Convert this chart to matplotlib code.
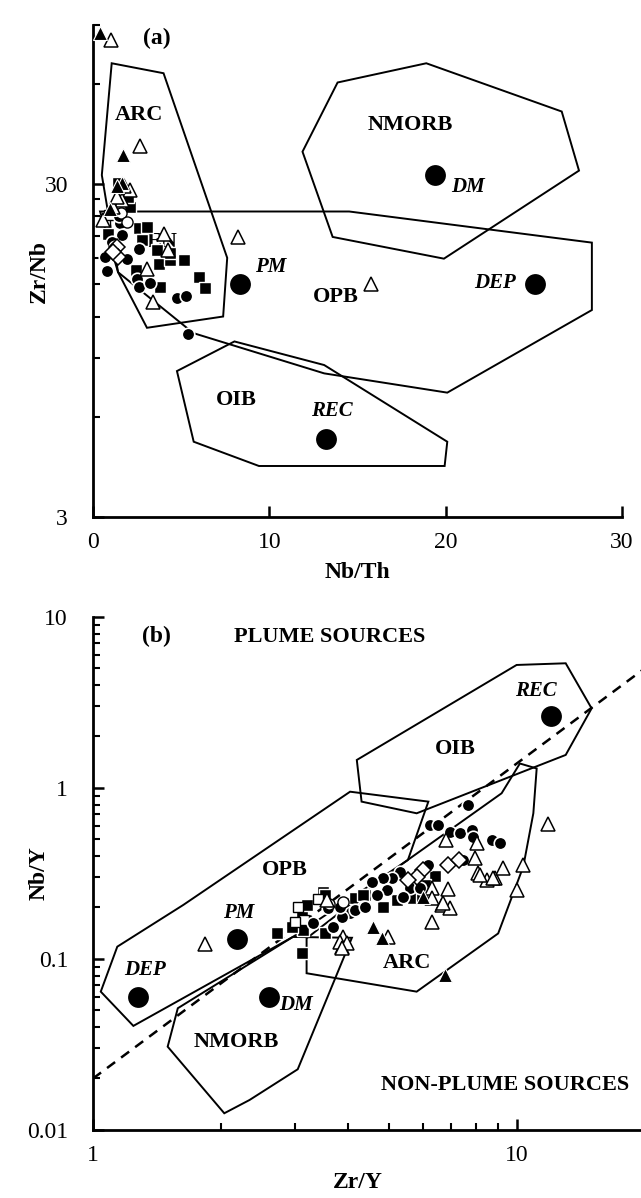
import matplotlib
matplotlib.use('Agg')
import matplotlib.pyplot as plt
from matplotlib.patches import Polygon
from matplotlib.ticker import FixedLocator, NullFormatter, FixedFormatter
import numpy as np

plt.rcParams['font.family'] = ['Liberation Serif', 'DejaVu Serif']

# ------------------------------------------------------------------
# (a) Zr/Nb vs Nb/Th
# ------------------------------------------------------------------
a_arc_x = [1.06, 4.0, 7.61, 7.38, 3.06, 1.42, 0.5]
a_arc_y = [69.1, 64.5, 18.0, 12.0, 11.1, 16.3, 31.9]
a_opb_x = [0.4, 14.53, 28.29, 28.29, 20.09, 13.11, 5.69, 1.42]
a_opb_y = [24.8, 24.8, 20.0, 12.55, 7.09, 8.1, 10.7, 16.3]
a_nmorb_x = [13.87, 18.9, 26.58, 27.56, 19.9, 13.59, 11.88]
a_nmorb_y = [60.5, 69.1, 49.5, 32.9, 17.9, 20.8, 37.5]
a_oib_x = [4.76, 8.02, 13.11, 20.09, 19.94, 9.41, 5.71]
a_oib_y = [8.23, 10.1, 8.58, 5.05, 4.27, 4.27, 5.05]

a_ref_names = ['PM', 'DM', 'DEP', 'REC']
a_ref_x = [8.33, 19.37, 25.06, 13.24]
a_ref_y = [15.0, 31.9, 15.0, 5.15]

a_sqf_x = [1.44, 2.07, 2.58, 3.06, 0.87, 2.77, 3.63, 3.72, 4.38, 5.14, 2.45, 5.99, 6.37, 3.81, 4.38, 2.0]
a_sqf_y = [30.1, 25.6, 22.1, 22.3, 21.3, 20.4, 19.0, 17.3, 17.7, 17.7, 16.6, 15.8, 14.6, 14.7, 18.6, 27.5]
a_cirf_x = [1.54, 1.63, 1.06, 2.58, 0.68, 1.92, 0.78, 2.49, 2.58, 3.24, 4.76, 5.29, 5.37, 1.25, 1.50]
a_cirf_y = [22.9, 21.1, 20.1, 19.2, 18.1, 17.9, 16.4, 15.6, 14.7, 15.1, 13.6, 13.8, 10.6, 19.4, 24.0]
a_trif_x = [0.40, 1.69, 1.63, 1.35, 0.97]
a_trif_y = [85.1, 36.7, 30.1, 29.5, 25.3]
a_trio_x = [1.01, 2.64, 2.11, 1.63, 1.16, 0.59, 4.0, 4.23, 3.06, 3.40, 8.21, 15.77, 1.75, 1.35]
a_trio_y = [81.2, 39.0, 28.8, 26.9, 25.6, 23.4, 21.3, 19.0, 16.7, 13.3, 20.8, 15.0, 29.5, 27.5]
a_diao_x = [1.35, 1.44, 1.15]
a_diao_y = [19.4, 18.1, 18.8]
a_sqo_x = [0.68, 0.9]
a_sqo_y = [23.2, 24.2]
a_ciro_x = [1.6, 1.9]
a_ciro_y = [24.5, 23.0]

# ------------------------------------------------------------------
# (b) Nb/Y vs Zr/Y
# ------------------------------------------------------------------
b_opb_x = [1.245, 1.043, 1.141, 1.633, 4.04, 6.18, 5.53, 2.96]
b_opb_y = [0.0406, 0.0644, 0.118, 0.207, 0.951, 0.832, 0.379, 0.1345]
b_oib_x = [4.19, 9.98, 13.03, 15.0, 13.03, 5.80, 4.30]
b_oib_y = [1.458, 5.24, 5.36, 2.92, 1.56, 0.711, 0.832]
b_arc_x = [3.19, 3.19, 5.80, 9.03, 10.35, 10.93, 11.13, 10.16, 9.20, 5.39]
b_arc_y = [0.132, 0.0825, 0.0644, 0.141, 0.347, 0.711, 1.30, 1.39, 0.931, 0.363]
b_nmorb_x = [1.585, 1.50, 2.04, 2.34, 3.04, 4.08, 2.96]
b_nmorb_y = [0.0515, 0.0307, 0.01252, 0.01497, 0.02264, 0.133, 0.1345]
b_div_x = [1, 20]
b_div_y = [0.02, 5]

b_ref_names = ['PM', 'DM', 'DEP', 'REC']
b_ref_x = [2.19, 2.60, 1.28, 12.0]
b_ref_y = [0.13, 0.06, 0.06, 2.65]

b_sqf_x = [6.41, 6.07, 4.38, 4.15, 3.49, 3.11, 3.11, 3.13, 3.11, 2.71, 2.94, 3.53, 4.84, 5.20, 5.69, 5.96, 3.19, 3.53, 4.34]
b_sqf_y = [0.306, 0.271, 0.237, 0.226, 0.247, 0.202, 0.181, 0.148, 0.108, 0.141, 0.154, 0.141, 0.202, 0.221, 0.226, 0.231, 0.207, 0.237, 0.237]
b_sqo_x = [3.05, 3.15, 3.4, 3.0]
b_sqo_y = [0.20, 0.17, 0.225, 0.165]
b_cirf_x = [7.65, 6.23, 6.52, 6.95, 7.34, 7.82, 7.89, 8.72, 9.12, 7.47, 6.18, 5.30, 5.06, 4.84, 4.54,
            4.93, 4.67, 5.59, 5.90, 4.34, 4.04, 3.86, 3.59, 3.82, 3.31, 3.69, 5.39, 4.15, 4.38]
b_cirf_y = [0.796, 0.608, 0.608, 0.555, 0.543, 0.568, 0.519, 0.497, 0.479, 0.379, 0.355, 0.324, 0.296, 0.296, 0.283,
            0.253, 0.237, 0.259, 0.259, 0.202, 0.185, 0.177, 0.198, 0.202, 0.162, 0.154, 0.231, 0.193, 0.202]
b_ciro_x = [3.89, 3.6]
b_ciro_y = [0.216, 0.21]
b_diao_x = [6.01, 5.80, 5.54, 6.89, 7.3]
b_diao_y = [0.332, 0.303, 0.290, 0.355, 0.38]
b_trif_x = [4.58, 4.80, 6.76, 6.0]
b_trif_y = [0.154, 0.132, 0.0806, 0.23]
b_trio_x = [6.80, 8.04, 7.96, 8.10, 8.48, 8.88, 9.29, 10.35, 9.98, 6.89, 6.29, 6.29, 6.64, 6.95, 6.29, 4.97,
            3.89, 3.86, 3.56, 3.82, 11.81, 8.18, 8.79, 6.70, 3.97, 3.86, 1.84]
b_trio_y = [0.497, 0.475, 0.388, 0.317, 0.290, 0.296, 0.339, 0.355, 0.253, 0.256, 0.259, 0.226, 0.207, 0.198, 0.165, 0.135,
            0.135, 0.118, 0.221, 0.126, 0.616, 0.310, 0.296, 0.212, 0.124, 0.1155, 0.122]


def poly(ax, xs, ys):
    ax.add_patch(Polygon(np.column_stack([xs, ys]), closed=True, fill=False,
                         ec='black', lw=1.4, zorder=1))


def pts(ax, xs, ys, marker, fc, ec, ms, mew, z=3):
    ax.plot(xs, ys, ls='none', marker=marker, ms=ms, mfc=fc, mec=ec, mew=mew, zorder=z)


def samples(ax, d):
    pts(ax, d['sqf'][0], d['sqf'][1], 's', 'black', 'white', 8, 1.0)
    pts(ax, d['sqo'][0], d['sqo'][1], 's', 'white', 'black', 7, 1.0)
    pts(ax, d['cirf'][0], d['cirf'][1], 'o', 'black', 'white', 9, 1.2)
    pts(ax, d['ciro'][0], d['ciro'][1], 'o', 'white', 'black', 8, 1.0)
    pts(ax, d['trio'][0], d['trio'][1], '^', 'white', 'black', 9.5, 1.1)
    pts(ax, d['trif'][0], d['trif'][1], '^', 'black', 'white', 9.5, 0.8)
    pts(ax, d['diao'][0], d['diao'][1], 'D', 'white', 'black', 8, 1.1)


def style(ax):
    for s in ['top', 'right']:
        ax.spines[s].set_visible(False)
    for s in ['left', 'bottom']:
        ax.spines[s].set_linewidth(2)
    ax.tick_params(which='major', direction='in', length=8, width=1.8, labelsize=17)
    ax.tick_params(which='minor', direction='in', length=5, width=1.5)
    ax.tick_params(axis='y', which='both', pad=18)
    ax.tick_params(axis='x', which='both', pad=11)


fig = plt.figure(figsize=(6.41, 11.98), dpi=100)

# ---------------- panel (a) ----------------
ax1 = fig.add_axes([0.1451, 0.5684, 0.8253, 0.4107])
ax1.set_yscale('log')
ax1.set_xlim(0, 30)
ax1.set_ylim(3, 90)
for px, py in [(a_arc_x, a_arc_y), (a_opb_x, a_opb_y), (a_nmorb_x, a_nmorb_y), (a_oib_x, a_oib_y)]:
    poly(ax1, px, py)

ax1.text(3.91, 20.1, 'EN', fontsize=16, weight='bold', ha='center', va='center', zorder=2)
samples(ax1, {'sqf': (a_sqf_x, a_sqf_y), 'sqo': (a_sqo_x, a_sqo_y), 'cirf': (a_cirf_x, a_cirf_y),
              'ciro': (a_ciro_x, a_ciro_y), 'trio': (a_trio_x, a_trio_y), 'trif': (a_trif_x, a_trif_y),
              'diao': (a_diao_x, a_diao_y)})
pts(ax1, a_ref_x, a_ref_y, 'o', 'black', 'black', 15, 0, z=4)

lab = dict(fontsize=16, weight='bold', ha='center', va='center')
ax1.text(2.58, 48.3, 'ARC', **lab)
ax1.text(18.0, 45.1, 'NMORB', **lab)
ax1.text(13.77, 13.7, 'OPB', **lab)
ax1.text(8.14, 6.73, 'OIB', **lab)
ilab = dict(fontsize=15, weight='bold', style='italic', va='center')
ax1.text(9.2, 16.9, 'PM', ha='left', **ilab)
ax1.text(20.3, 29.4, 'DM', ha='left', **ilab)
ax1.text(24.0, 15.1, 'DEP', ha='right', **ilab)
ax1.text(13.53, 6.24, 'REC', ha='center', **ilab)
ax1.text(3.63, 82, '(a)', fontsize=17, weight='bold', ha='center', va='center')

ax1.xaxis.set_major_locator(FixedLocator([0, 10, 20, 30]))
ax1.yaxis.set_major_locator(FixedLocator([3, 30]))
ax1.yaxis.set_major_formatter(FixedFormatter(['3', '30']))
ax1.yaxis.set_minor_locator(FixedLocator([6, 9, 12, 15, 18, 21, 24, 27, 60, 90]))
ax1.yaxis.set_minor_formatter(NullFormatter())
style(ax1)
ax1.set_xlabel('Nb/Th', fontsize=17, weight='bold')
ax1.set_ylabel('Zr/Nb', fontsize=17, weight='bold')
ax1.xaxis.set_label_coords(0.5, -0.092)
ax1.yaxis.set_label_coords(-0.081, 0.5)

# ---------------- panel (b) ----------------
ax2 = fig.add_axes([0.1451, 0.0568, 0.8605, 0.4282])
ax2.set_xscale('log')
ax2.set_yscale('log')
ax2.set_xlim(1, 20)
ax2.set_ylim(0.01, 10)
for px, py in [(b_opb_x, b_opb_y), (b_oib_x, b_oib_y), (b_arc_x, b_arc_y), (b_nmorb_x, b_nmorb_y)]:
    poly(ax2, px, py)
ax2.plot(b_div_x, b_div_y, ls=(0, (4, 3)), color='black', lw=1.8, zorder=1)

samples(ax2, {'sqf': (b_sqf_x, b_sqf_y), 'sqo': (b_sqo_x, b_sqo_y), 'cirf': (b_cirf_x, b_cirf_y),
              'ciro': (b_ciro_x, b_ciro_y), 'trio': (b_trio_x, b_trio_y), 'trif': (b_trif_x, b_trif_y),
              'diao': (b_diao_x, b_diao_y)})
pts(ax2, b_ref_x, b_ref_y, 'o', 'black', 'black', 15, 0, z=4)

ax2.text(2.84, 0.331, 'OPB', **lab)
ax2.text(7.17, 1.68, 'OIB', **lab)
ax2.text(5.49, 0.0944, 'ARC', **lab)
ax2.text(2.18, 0.0328, 'NMORB', **lab)
ax2.text(2.2, 0.185, 'PM', ha='center', **ilab)
ax2.text(1.327, 0.0863, 'DEP', ha='center', **ilab)
ax2.text(2.75, 0.054, 'DM', ha='left', **ilab)
ax2.text(11.09, 3.71, 'REC', ha='center', **ilab)
ax2.text(1.41, 7.67, '(b)', fontsize=17, weight='bold', ha='center', va='center')
ax2.text(3.62, 7.67, 'PLUME SOURCES', fontsize=16, weight='bold', ha='center', va='center')
ax2.text(9.37, 0.0183, 'NON-PLUME SOURCES', fontsize=16, weight='bold', ha='center', va='center')

ax2.xaxis.set_major_locator(FixedLocator([1, 10]))
ax2.xaxis.set_major_formatter(FixedFormatter(['1', '10']))
ax2.xaxis.set_minor_locator(FixedLocator([2, 3, 4, 5, 6, 7, 8, 9, 20]))
ax2.xaxis.set_minor_formatter(NullFormatter())
ax2.yaxis.set_major_locator(FixedLocator([0.01, 0.1, 1, 10]))
ax2.yaxis.set_major_formatter(FixedFormatter(['0.01', '0.1', '1', '10']))
ax2.yaxis.set_minor_locator(FixedLocator([k * d for d in (0.01, 0.1, 1) for k in range(2, 10)]))
ax2.yaxis.set_minor_formatter(NullFormatter())
style(ax2)
ax2.set_xlabel('Zr/Y', fontsize=17, weight='bold')
ax2.set_ylabel('Nb/Y', fontsize=17, weight='bold')
ax2.xaxis.set_label_coords(0.5 * 0.959, -0.082)
ax2.yaxis.set_label_coords(-0.078, 0.5)

fig.savefig('out.png', dpi=100)
